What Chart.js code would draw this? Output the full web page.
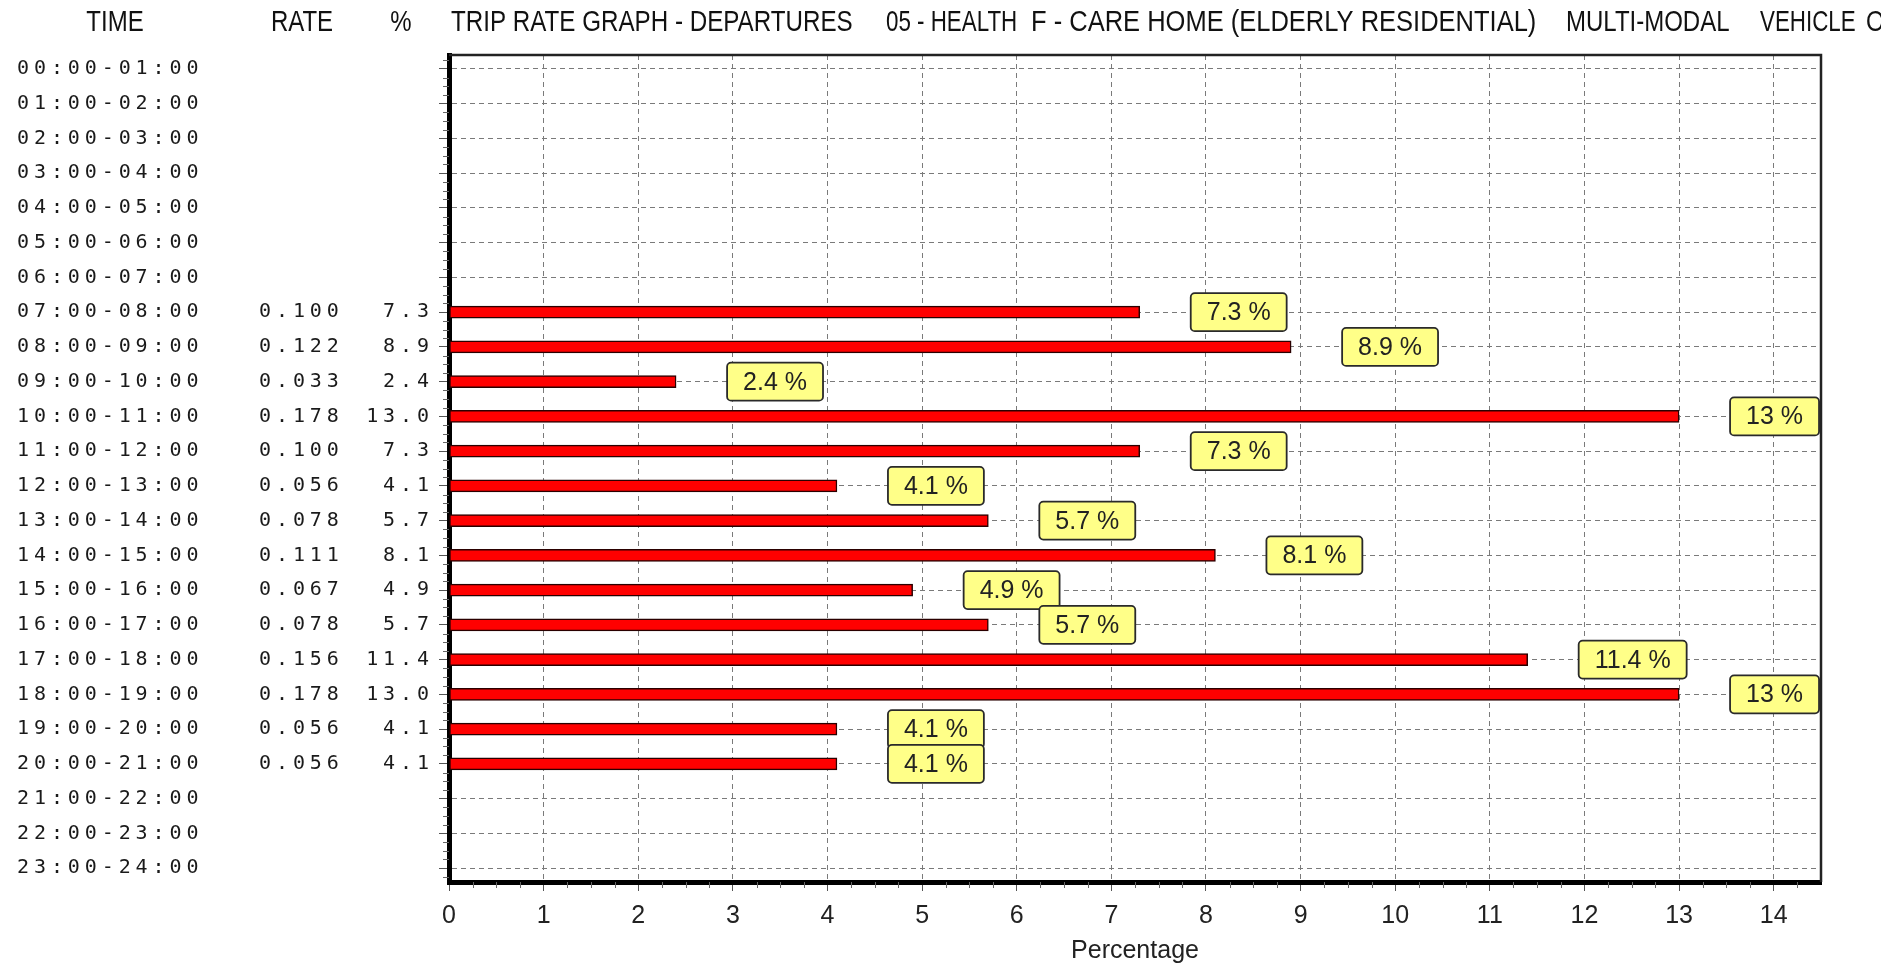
<!DOCTYPE html>
<html>
<head>
<meta charset="utf-8">
<title>Trip Rate Graph - Departures</title>
<script src="https://cdn.jsdelivr.net/npm/chart.js@4.4.1/dist/chart.umd.min.js"></script>
<style>
    html, body { margin: 0; padding: 0; background: #fff; }
    #trip-rate-chart { display: block; }
</style>
</head>
<body>
<canvas id="trip-rate-chart" width="1895" height="968"></canvas>
<script>
const hours = [
    '00:00-01:00', '01:00-02:00', '02:00-03:00', '03:00-04:00', '04:00-05:00', '05:00-06:00',
    '06:00-07:00', '07:00-08:00', '08:00-09:00', '09:00-10:00', '10:00-11:00', '11:00-12:00',
    '12:00-13:00', '13:00-14:00', '14:00-15:00', '15:00-16:00', '16:00-17:00', '17:00-18:00',
    '18:00-19:00', '19:00-20:00', '20:00-21:00', '21:00-22:00', '22:00-23:00', '23:00-24:00'
];
const rates = [
    null, null, null, null, null, null, null,
    0.100, 0.122, 0.033, 0.178, 0.100, 0.056, 0.078, 0.111, 0.067, 0.078, 0.156, 0.178, 0.056, 0.056,
    null, null, null
];
const percentages = [
    null, null, null, null, null, null, null,
    7.3, 8.9, 2.4, 13.0, 7.3, 4.1, 5.7, 8.1, 4.9, 5.7, 11.4, 13.0, 4.1, 4.1,
    null, null, null
];
const xTickValues = [0, 1, 2, 3, 4, 5, 6, 7, 8, 9, 10, 11, 12, 13, 14];
const xAxisTitle = 'Percentage';
const columnHeaders = ['TIME', 'RATE', '%'];
const titleParts = [
    'TRIP RATE GRAPH - DEPARTURES',
    '05 - HEALTH',
    'F - CARE HOME (ELDERLY RESIDENTIAL)',
    'MULTI-MODAL',
    'VEHICLE',
    'OCCUPANTS'
];

const sansFont = '"Liberation Sans", Arial, sans-serif';
const monoFont = '"DejaVu Sans Mono", monospace';

// Draw text squeezed horizontally (the original uses a narrow face)
const drawScaledText = (ctx, text, x, y, scaleX) => {
    ctx.save();
    ctx.translate(x, y);
    ctx.scale(scaleX, 1);
    ctx.fillText(text, 0, 0);
    ctx.restore();
};

// Header line above the table and the plot
const headerPlugin = {
    id: 'header',
    afterDraw(chart) {
        const ctx = chart.ctx;
        ctx.save();
        ctx.font = '30px ' + sansFont;
        ctx.fillStyle = '#111';
        ctx.textBaseline = 'middle';
        ctx.textAlign = 'center';
        const headerX = [115, 302, 401];
        columnHeaders.forEach((text, i) => drawScaledText(ctx, text, headerX[i], 23, 0.8));
        // the last word runs off the edge of the original picture
        ctx.beginPath();
        ctx.rect(0, 0, 1881, 50);
        ctx.clip();
        ctx.textAlign = 'left';
        const partX = [451, 886, 1031, 1566, 1760, 1866];
        const partScale = [0.806, 0.745, 0.85, 0.8, 0.745, 0.8];
        titleParts.forEach((text, i) => drawScaledText(ctx, text, partX[i], 23, partScale[i]));
        ctx.restore();
    }
};

// TIME / RATE / % columns, placed on the rows of the y scale
const tablePlugin = {
    id: 'tableColumns',
    afterDraw(chart) {
        const ctx = chart.ctx;
        const yScale = chart.scales.y;
        const spacing = 4.9;
        ctx.save();
        ctx.font = '20px ' + monoFont;
        ctx.fillStyle = '#1a1a1a';
        ctx.textBaseline = 'middle';
        ctx.textAlign = 'left';
        ctx.letterSpacing = spacing + 'px';
        hours.forEach((hour, i) => {
            const y = yScale.getPixelForValue(i);
            ctx.fillText(hour, 17, y);
            if (rates[i] !== null) {
                ctx.fillText(rates[i].toFixed(3), 259, y);
                const pct = percentages[i].toFixed(1);
                const w = ctx.measureText(pct).width - spacing;
                ctx.fillText(pct, 429 - w, y);
            }
        });
        ctx.restore();
    }
};

// Thin top / right frame plus the minor tick marks
const framePlugin = {
    id: 'frame',
    afterDraw(chart) {
        const ctx = chart.ctx;
        const area = chart.chartArea;
        const xScale = chart.scales.x;
        const yScale = chart.scales.y;
        ctx.save();
        ctx.strokeStyle = '#222';
        ctx.lineWidth = 2.5;
        ctx.beginPath();
        ctx.moveTo(area.left, area.top);
        ctx.lineTo(area.right, area.top);
        ctx.lineTo(area.right, area.bottom);
        ctx.stroke();

        ctx.strokeStyle = '#666';
        ctx.lineWidth = 1;
        ctx.beginPath();
        for (let v = 0; v < xScale.max; v += 0.25) {
            if (Number.isInteger(v)) continue;
            const x = Math.round(xScale.getPixelForValue(v)) + 0.5;
            ctx.moveTo(x, area.bottom);
            ctx.lineTo(x, area.bottom + 6);
        }
        for (let v = -0.25; v < yScale.max; v += 0.25) {
            if (Number.isInteger(v) || v < yScale.min) continue;
            const y = Math.round(yScale.getPixelForValue(v)) + 0.5;
            ctx.moveTo(area.left - 6, y);
            ctx.lineTo(area.left, y);
        }
        ctx.stroke();
        ctx.restore();
    }
};

// Yellow value boxes to the right of each bar
const valueBoxPlugin = {
    id: 'valueBoxes',
    afterDatasetsDraw(chart) {
        const ctx = chart.ctx;
        const meta = chart.getDatasetMeta(0);
        const points = chart.data.datasets[0].data;
        ctx.save();
        ctx.font = '25px ' + sansFont;
        ctx.textBaseline = 'middle';
        ctx.textAlign = 'center';
        meta.data.forEach((bar, i) => {
            const text = `${points[i].x} %`;
            const boxW = ctx.measureText(text).width + 32;
            const boxH = 38;
            const boxX = bar.x + 51;
            const boxY = bar.y - boxH / 2;
            ctx.beginPath();
            ctx.roundRect(boxX, boxY, boxW, boxH, 4);
            ctx.fillStyle = '#ffff88';
            ctx.fill();
            ctx.lineWidth = 1.8;
            ctx.strokeStyle = '#2a2a2a';
            ctx.stroke();
            ctx.fillStyle = '#222';
            ctx.fillText(text, boxX + boxW / 2, bar.y + 1);
        });
        ctx.restore();
    }
};

const barPoints = hours
    .map((hour, i) => ({ x: percentages[i], y: i }))
    .filter(p => p.x !== null);

const ctx = document.getElementById('trip-rate-chart').getContext('2d');
const tripRateChart = new Chart(ctx, {
    type: 'bar',
    data: {
        datasets: [{
            data: barPoints,
            backgroundColor: '#ff0000',
            borderColor: '#2a0000',
            borderWidth: 1.5,
            borderSkipped: false,
            barThickness: 12,
        }],
    },
    options: {
        indexAxis: 'y',
        responsive: false,
        animation: false,
        devicePixelRatio: 1,
        layout: { padding: { top: 55, right: 74, bottom: 0, left: 0 } },
        plugins: {
            legend: { display: false },
            tooltip: { enabled: false },
        },
        scales: {
            x: {
                type: 'linear',
                position: 'bottom',
                min: 0,
                max: 14.5,
                afterBuildTicks: scale => { scale.ticks = xTickValues.map(v => ({ value: v })); },
                afterFit: scale => { scale.height = 86; },
                ticks: {
                    color: '#222',
                    font: { family: sansFont, size: 25 },
                    padding: 10,
                    maxRotation: 0,
                },
                grid: {
                    color: '#7a7a7a',
                    lineWidth: 1,
                    drawTicks: true,
                    tickLength: 9,
                    tickColor: '#555',
                    tickBorderDash: [],
                },
                border: { display: true, color: '#000', width: 5, dash: [5, 4] },
                title: {
                    display: true,
                    text: xAxisTitle,
                    color: '#222',
                    font: { family: sansFont, size: 25 },
                    padding: { top: 0, bottom: 2 },
                },
            },
            y: {
                type: 'linear',
                reverse: true,
                offset: false,
                min: -0.4,
                max: 23.4,
                afterBuildTicks: scale => { scale.ticks = hours.map((h, i) => ({ value: i })); },
                afterFit: scale => { scale.width = 449; },
                ticks: {
                    display: true,
                    callback: () => '',
                },
                grid: {
                    offset: false,
                    color: '#7a7a7a',
                    lineWidth: 1,
                    drawTicks: true,
                    tickLength: 10,
                    tickColor: '#555',
                    tickBorderDash: [],
                },
                border: { display: true, color: '#000', width: 5, dash: [5, 4] },
            },
        },
    },
    plugins: [valueBoxPlugin, tablePlugin, framePlugin, headerPlugin],
});
</script>
</body>
</html>
